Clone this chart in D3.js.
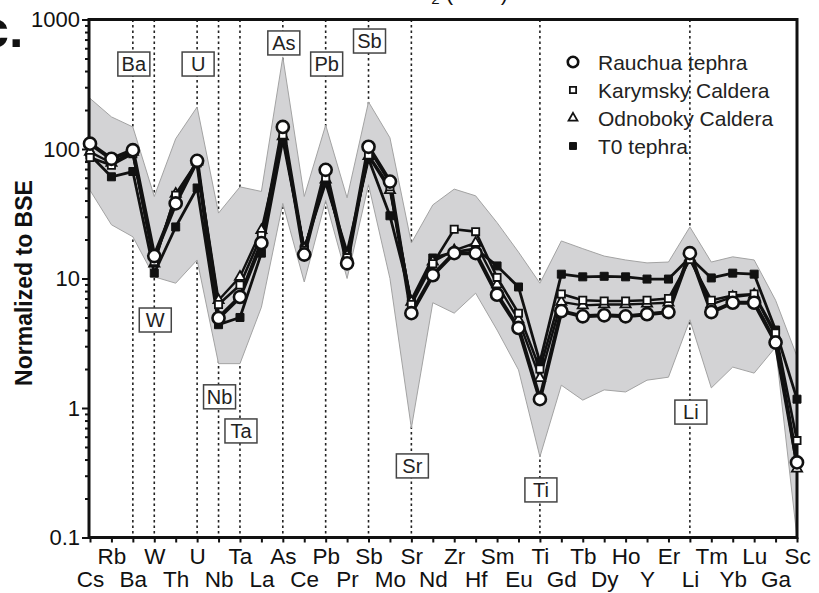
<!DOCTYPE html>
<html>
<head>
<meta charset="utf-8">
<script src="https://cdn.jsdelivr.net/npm/d3@7"></script>
<style>
  body { margin: 0; background: #fff; }
  svg text { font-family: "Liberation Sans", Arial, sans-serif; }
</style>
</head>
<body>
<div id="chart"></div>
<script>
// element order along the x axis
const elements = ["Cs","Rb","Ba","W","Th","U","Nb","Ta","La","As","Ce","Pb","Pr","Sb","Mo","Sr","Nd","Zr","Hf","Sm","Eu","Ti","Gd","Tb","Dy","Ho","Y","Er","Li","Tm","Yb","Lu","Ga","Sc"];

// normalized values
const rauchua   = [110, 84, 98, 14.9, 38, 81, 4.95, 7.2, 18.8, 148, 15.3, 69, 13.1, 104, 56, 5.4, 10.6, 15.7, 15.7, 7.5, 4.15, 1.17, 5.6, 5.1, 5.2, 5.1, 5.3, 5.5, 15.7, 5.5, 6.5, 6.5, 3.2, 0.38];
const karymsky  = [86, 75, 92, 13.5, 44, 78, 6.3, 8.9, 21.5, 128, 16.5, 60, 14.5, 90, 51, 6.3, 13, 24, 23, 10.2, 5.4, 2.0, 7.6, 6.8, 6.7, 6.7, 6.8, 7.0, 14, 6.8, 7.4, 7.6, 3.8, 0.56];
const odnoboky  = [95, 78, 95, 13, 45, 80, 6.8, 10.3, 23.6, 125, 17, 58, 15, 88, 48, 6.6, 13.5, 16.5, 18.8, 9, 4.8, 1.7, 6.6, 6.2, 6.3, 6.3, 6.4, 6.5, 14.5, 6.3, 7.2, 7.5, 3.6, 0.34];
const t0        = [90, 61, 67, 11, 25, 50, 4.4, 5.0, 15.7, 118, 17, 55, 16, 84, 30.5, 6.8, 14.4, 16, 17, 12.5, 8.6, 2.26, 10.8, 10.3, 10.4, 10.3, 9.9, 9.9, 14.5, 10.1, 11.0, 10.8, 4.0, 1.17];

// gray envelope
const bandUpper = [246, 177, 148, 43, 120, 211, 32, 51, 47, 514, 43, 153, 42, 231, 122, 18.8, 37, 49, 43.5, 27, 16, 9.2, 19.5, 17, 14.9, 13.9, 13.2, 13.4, 25, 13.4, 14.7, 13.9, 6.8, 2.5];
const bandLower = [48, 26, 21, 10.3, 9.2, 13.9, 2.2, 2.2, 6, 38, 9.4, 40, 10, 53, 10, 0.7, 6.5, 5.4, 7.7, 4.0, 1.97, 0.42, 1.5, 1.15, 1.38, 1.33, 1.64, 1.73, 4.8, 1.43, 2.07, 1.86, 2.95, 0.1];

// dotted guide lines and boxed labels (label level in data units)
const guideElements = ["Ba","W","U","Nb","Ta","As","Pb","Sb","Sr","Ti","Li"];
const boxLevels = [453, 4.78, 453, 1.22, 0.665, 659, 453, 682, 0.357, 0.233, 0.93];

const yTickValues = [0.1, 1, 10, 100, 1000];
const yTickLabels = ["0.1", "1", "10", "100", "1000"];

const seriesNames = ["Rauchua tephra", "Karymsky Caldera", "Odnoboky Caldera", "T0 tephra"];

const W = 819, H = 593;
const svg = d3.select("#chart").append("svg").attr("width", W).attr("height", H);

const x = d3.scalePoint().domain(elements).range([90, 797]);
const y = d3.scaleLog().domain([0.1, 1000]).range([537.5, 19.5]);

const plotL = 89, plotR = 797, plotT = 19.5, plotB = 537.5;

// cut-off title bits at the top edge
svg.append("text")
  .attr("x", -20).attr("y", 47)
  .attr("font-size", 52).attr("font-weight", "bold").attr("fill", "#111")
  .text("c.");

const ttl = svg.append("text")
  .attr("x", 508).attr("y", 0)
  .attr("text-anchor", "end")
  .attr("font-size", 22).attr("fill", "#111");
ttl.append("tspan").text("SiO");
ttl.append("tspan").attr("font-size", 15).attr("dy", 4).text("2");
ttl.append("tspan").attr("dy", -4).text(" (wt.%)");

// dotted guides
svg.append("g").selectAll("line")
  .data(guideElements)
  .enter().append("line")
  .attr("x1", d => x(d)).attr("x2", d => x(d))
  .attr("y1", plotT).attr("y2", plotB)
  .attr("stroke", "#222").attr("stroke-width", 1.6)
  .attr("stroke-dasharray", "2.5,3");

// boxed labels
const boxes = svg.append("g").selectAll("g")
  .data(guideElements.map((el, i) => ({ el, v: boxLevels[i] })))
  .enter().append("g")
  .attr("transform", d => `translate(${x(d.el) + 1},${y(d.v)})`);
boxes.append("rect")
  .attr("x", -16).attr("y", -12).attr("width", 32).attr("height", 24)
  .attr("fill", "#fff").attr("stroke", "#444").attr("stroke-width", 1.5);
boxes.append("text")
  .attr("text-anchor", "middle").attr("dy", "0.36em")
  .attr("font-size", 20).attr("fill", "#222")
  .text(d => d.el);

// envelope
const area = d3.area()
  .x((d, i) => x(elements[i]))
  .y0((d, i) => y(bandLower[i]))
  .y1(d => y(d));
svg.append("path")
  .datum(bandUpper)
  .attr("d", area)
  .attr("fill", "#d3d3d5")
  .attr("stroke", "#a3a3a3").attr("stroke-width", 1);

// axes
const yMinor = [];
for (let p = -1; p < 3; p++) for (let k = 2; k <= 9; k++) yMinor.push(k * Math.pow(10, p));

const yMajorAxis = svg.append("g")
  .attr("transform", `translate(${plotL},0)`)
  .call(d3.axisLeft(y).tickValues(yTickValues).tickSize(7).tickFormat((d, i) => yTickLabels[i]));
const yMinorAxis = svg.append("g")
  .attr("transform", `translate(${plotL},0)`)
  .call(d3.axisLeft(y).tickValues(yMinor).tickSize(4).tickFormat(""));
const xAxis = svg.append("g")
  .attr("transform", `translate(0,${plotB})`)
  .call(d3.axisBottom(x).tickSize(5).tickPadding(0));

[yMajorAxis, yMinorAxis, xAxis].forEach(g => {
  g.select(".domain").remove();
  g.selectAll(".tick line").attr("stroke", "#111").attr("stroke-width", 2);
});
yMajorAxis.selectAll("text")
  .attr("font-size", 22).attr("fill", "#111").attr("x", -9);
xAxis.selectAll("text")
  .attr("font-size", 22.5).attr("fill", "#111")
  .attr("dy", 0)
  .attr("y", (d, i) => i % 2 === 1 ? 26.5 : 49.5);

// frame
svg.append("rect")
  .attr("x", plotL).attr("y", plotT)
  .attr("width", plotR - plotL).attr("height", plotB - plotT)
  .attr("fill", "none").attr("stroke", "#111").attr("stroke-width", 3);

svg.append("text")
  .attr("transform", `translate(32,283) rotate(-90)`)
  .attr("text-anchor", "middle")
  .attr("font-size", 23).attr("font-weight", "bold").attr("fill", "#111")
  .text("Normalized to BSE");

// series
const seriesStyles = [
  { data: t0, width: 2.8, shape: d3.symbolSquare, size: 64, fill: "#111", sw: 1 },
  { data: odnoboky, width: 2.4, shape: d3.symbolTriangle, size: 45, fill: "#fff", sw: 1.8 },
  { data: karymsky, width: 2.6, shape: d3.symbolSquare, size: 52, fill: "#fff", sw: 1.8 },
  { data: rauchua, width: 4, shape: d3.symbolCircle, size: 115, fill: "#fff", sw: 2.6 }
];

const line = d3.line()
  .x((d, i) => x(elements[i]))
  .y(d => y(d));

seriesStyles.forEach(s => {
  svg.append("path")
    .datum(s.data)
    .attr("d", line)
    .attr("fill", "none")
    .attr("stroke", "#111")
    .attr("stroke-width", s.width)
    .attr("stroke-linejoin", "round");
});
seriesStyles.forEach(s => {
  svg.append("g").selectAll("path")
    .data(s.data)
    .enter().append("path")
    .attr("transform", (d, i) => `translate(${x(elements[i])},${y(d)})`)
    .attr("d", d3.symbol().type(s.shape).size(s.size))
    .attr("fill", s.fill)
    .attr("stroke", "#111")
    .attr("stroke-width", s.sw);
});

// legend
const legendOrder = [3, 2, 1, 0];
const legend = svg.append("g").attr("transform", "translate(573,62)");
legendOrder.forEach((si, i) => {
  const s = seriesStyles[si];
  const g = legend.append("g").attr("transform", `translate(0,${i * 28})`);
  g.append("path")
    .attr("d", d3.symbol().type(s.shape).size(s.size * 0.75))
    .attr("fill", s.fill).attr("stroke", "#111").attr("stroke-width", s.sw);
  g.append("text")
    .attr("x", 25).attr("dy", "0.36em")
    .attr("font-size", 21).attr("fill", "#222")
    .text(seriesNames[i]);
});
</script>
</body>
</html>
